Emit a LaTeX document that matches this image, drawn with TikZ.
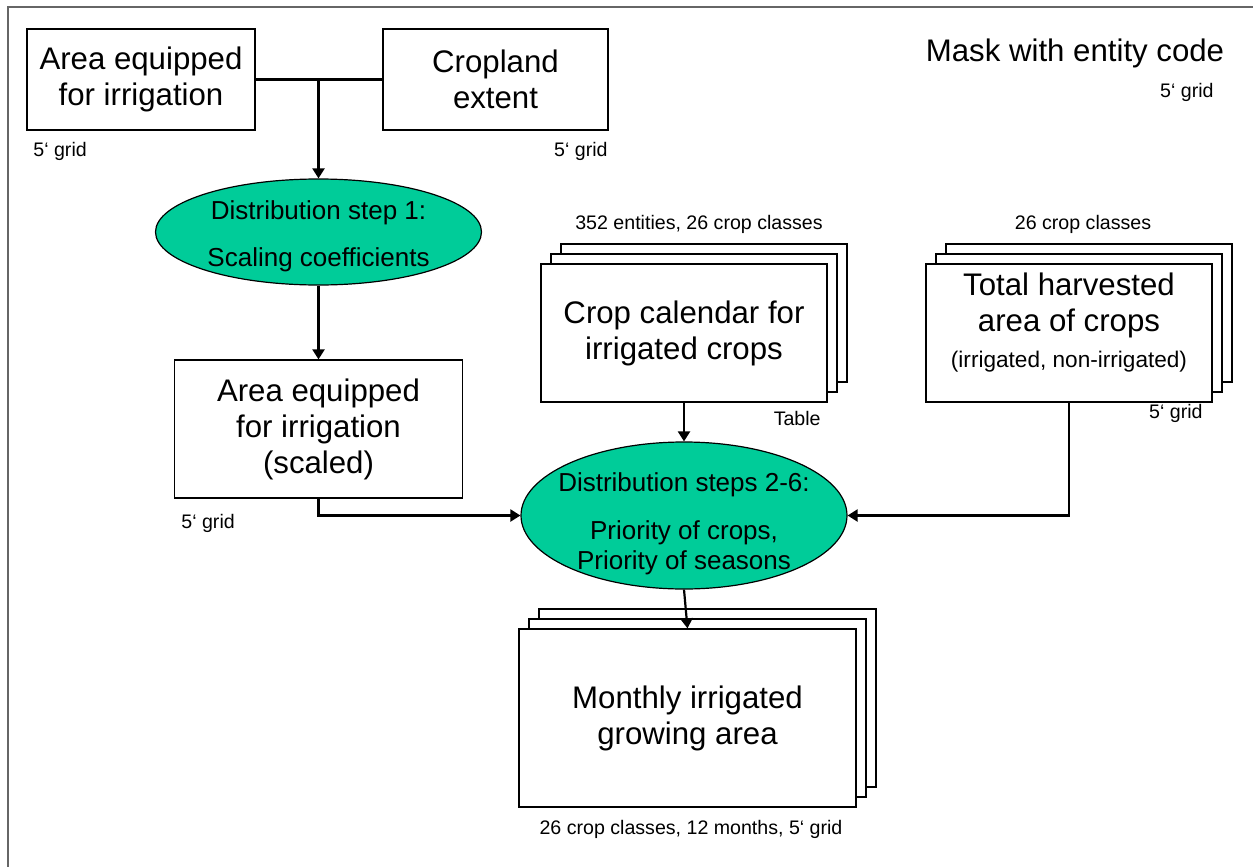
\documentclass[tikz,border=0pt]{standalone}
\usepackage{fontspec}
\setmainfont{Liberation Sans}
\usepackage{tikz}
\usetikzlibrary{arrows.meta,shapes.geometric,shadows}

\definecolor{stepgreen}{HTML}{00CC99}
\definecolor{framegray}{HTML}{666666}
\newcommand\boxfont{\fontsize{15.6}{18}\selectfont}
\newcommand\stepfont{\fontsize{13}{15}\selectfont}
\newcommand\subfont{\fontsize{11.3}{13}\selectfont}
\newcommand\notefont{\fontsize{9.8}{11.5}\selectfont}

\tikzset{
  databox/.style={draw=black,line width=0.6pt,fill=white,font=\boxfont,align=center,inner sep=0pt},
  stackbox/.style={databox,
    copy shadow={shadow xshift=10pt,shadow yshift=10pt,fill=white,draw=black},
    copy shadow={shadow xshift=5pt,shadow yshift=5pt,fill=white,draw=black}},
  stepell/.style={ellipse,draw=black,line width=0.6pt,fill=stepgreen,inner sep=0pt,minimum width=163pt},
  steptxt/.style={font=\stepfont,align=center,inner sep=0pt},
  note/.style={font=\notefont,inner sep=0pt},
  link/.style={line width=1.1pt},
  flow/.style={link,-{Triangle[length=5pt,width=6pt]}}
}

\begin{document}
\begin{tikzpicture}[x=0.5pt,y=-0.5pt]
  \useasboundingbox (0,0) rectangle (1253,867);
  \draw[framegray,line width=0.75pt] (1253,7) -- (8,7) -- (8,867);

  % inputs
  \node[databox,minimum width=114pt,minimum height=50.5pt] (areaeq) at (141,79.5) {Area equipped\\for irrigation};
  \node[databox,minimum width=112.5pt,minimum height=50.5pt] (cropland) at (495.5,79.5) {Cropland\\extent};
  \node[note,anchor=west] (gridA) at (33,151) {5‘ grid};
  \node[note,anchor=east] (gridB) at (608,151) {5‘ grid};
  \node[font=\boxfont,inner sep=0pt] (mask) at (1075,53) {Mask with entity code};
  \node[note,anchor=east] (gridM) at (1214,92) {5‘ grid};

  % step 1
  \node[stepell,minimum height=53pt] (step1) at (318.5,232) {};
  \node[steptxt] (step1txt) at ([yshift=-2pt]step1.center) {Distribution step 1:\\[8.5pt]Scaling coefficients};
  \node[databox,minimum width=144pt,minimum height=69pt] (areasc) at (318.5,429) {Area equipped\\for irrigation\\(scaled)};
  \node[note,anchor=west] (gridC) at (181,523) {5‘ grid};

  % tables and grids
  \node[stackbox,minimum width=143pt,minimum height=69pt] (calendar) at (684,333) {Crop calendar for\\irrigated crops};
  \node[note] (calnote) at (699,224) {352 entities, 26 crop classes};
  \node[note,anchor=east] (tabnote) at (821,418) {Table};
  \node[stackbox,minimum width=143pt,minimum height=69pt] (harvest) at (1069,333) {};
  \node[font=\boxfont,align=center,inner sep=0pt] (harvesttxt) at ([yshift=5pt]harvest.center)
    {Total harvested\\area of crops\\{\subfont (irrigated, non-irrigated)}};
  \node[note] (harvnote) at (1083,224) {26 crop classes};
  \node[note,anchor=east] (gridH) at (1203,413) {5‘ grid};

  % steps 2-6 and result
  \node[stepell,minimum height=73.5pt] (step2) at (684,515.5) {};
  \node[steptxt] (step2txt) at ([yshift=-4pt]step2.center) {Distribution steps 2-6:\\[9pt]Priority of crops,\\Priority of seasons};
  \node[stackbox,minimum width=168.5pt,minimum height=89pt] (monthly) at (687.5,718) {Monthly irrigated\\growing area};
  \node[note] (monthnote) at (691,829) {26 crop classes, 12 months, 5‘ grid};

  % connectors
  \draw[link] (areaeq.east) -- (cropland.west);
  \draw[flow] (areaeq.east -| step1.north) -- (step1.north);
  \draw[flow] (step1.south) -- (areasc.north);
  \draw[flow] (areasc.south) |- (step2.west);
  \draw[flow] (calendar.south) -- (step2.north);
  \draw[flow] (harvest.south) |- (step2.east);
  \draw[flow] (step2.south) -- (monthly.north);
\end{tikzpicture}
\end{document}
